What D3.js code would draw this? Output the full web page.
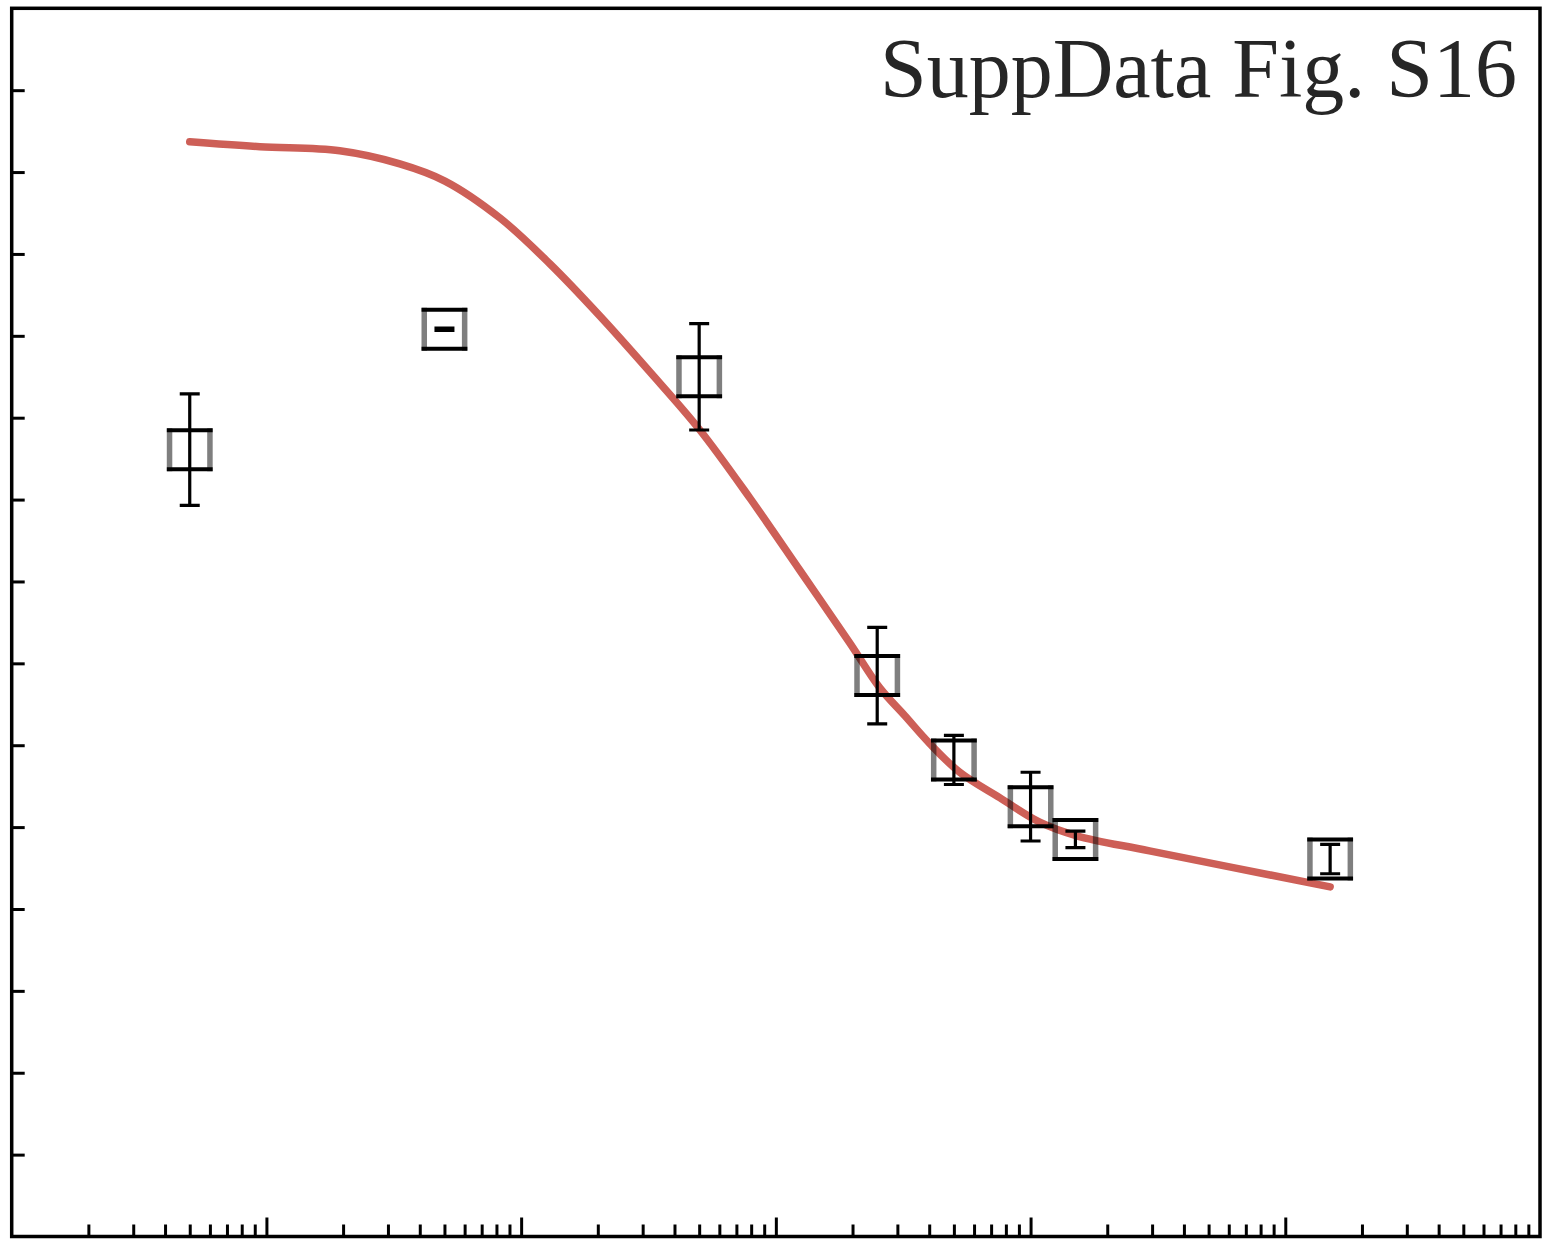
<!DOCTYPE html>
<html>
<head>
<meta charset="utf-8">
<script src="https://cdn.jsdelivr.net/npm/d3@7"></script>
<style>
  html, body { margin: 0; padding: 0; background: #ffffff; }
  svg { display: block; }
</style>
</head>
<body>
<svg id="chart" width="1543" height="1240"></svg>
<script>
// Measured responses (mean ± error) at each concentration
const concentrations = [0.05, 0.5, 5, 25, 50, 100, 150, 1500];
const responses      = [96.1, 110.8, 105.0, 68.5, 58.2, 52.5, 48.5, 46.1];
const errors         = [6.8, 0.15, 6.5, 5.9, 3.0, 4.2, 1.0, 1.8];

// Fitted dose-response curve, sampled along the concentration axis
const fitX = [0.05, 0.0943, 0.194, 0.334, 0.502, 0.825, 1.296, 2.04, 3.2, 5.03, 7.9,
              12.4, 19.5, 25.6, 32.1, 40.2, 52.7, 75.6, 108.6, 153, 293, 1500];
const fitY = [133.7, 133.1, 132.6, 131.0, 128.9, 124.4, 118.8, 112.4, 105.6, 98.5, 90.2,
              81.4, 72.5, 67.0, 63.6, 60.2, 56.7, 53.6, 50.6, 48.9, 47.1, 42.7];

// Axis ticks (no labels are printed)
const yTickValues = [10, 20, 30, 40, 50, 60, 70, 80, 90, 100, 110, 120, 130, 140];
const xDecades = [0.1, 1, 10, 100, 1000];
const xMinorMultipliers = [2, 3, 4, 5, 6, 7, 8, 9];
const xDomainDecades = [0.01, 0.1, 1, 10, 100, 1000];

const titleText = "SuppData Fig. S16";

const svg = d3.select("#chart");

const x = d3.scaleLog().domain([0.01, 10000]).range([11.7, 1540]);
const y = d3.scaleLinear().domain([0, 150]).range([1236.5, 8.3]);

const minorTicks = [];
xDomainDecades.forEach(d => xMinorMultipliers.forEach(m => minorTicks.push(d * m)));

// Minor x ticks (inward)
svg.append("g")
  .attr("transform", `translate(0,${y(0)})`)
  .call(d3.axisBottom(x).tickValues(minorTicks).tickSize(-12).tickFormat(""))
  .call(g => g.select(".domain").remove())
  .call(g => g.selectAll(".tick line").attr("stroke", "#000").attr("stroke-width", 3));

// Major x ticks (inward, longer)
svg.append("g")
  .attr("transform", `translate(0,${y(0)})`)
  .call(d3.axisBottom(x).tickValues(xDecades).tickSize(-19).tickFormat(""))
  .call(g => g.select(".domain").remove())
  .call(g => g.selectAll(".tick line").attr("stroke", "#000").attr("stroke-width", 3));

// Y ticks (inward)
svg.append("g")
  .attr("transform", `translate(${x(0.01)},0)`)
  .call(d3.axisLeft(y).tickValues(yTickValues).tickSize(-13).tickFormat(""))
  .call(g => g.select(".domain").remove())
  .call(g => g.selectAll(".tick line").attr("stroke", "#000").attr("stroke-width", 3));

// Plot frame
svg.append("rect")
  .attr("x", x(0.01))
  .attr("y", y(150))
  .attr("width", x(10000) - x(0.01))
  .attr("height", y(0) - y(150))
  .attr("fill", "none")
  .attr("stroke", "#000")
  .attr("stroke-width", 3.5);

// Fitted curve (drawn beneath the markers)
const line = d3.line()
  .x((d, i) => x(fitX[i]))
  .y(d => y(d))
  .curve(d3.curveCatmullRom.alpha(0.5));

svg.append("path")
  .datum(fitY)
  .attr("d", line)
  .attr("fill", "none")
  .attr("stroke", "#cd5f57")
  .attr("stroke-width", 7.5)
  .attr("stroke-linecap", "round")
  .attr("stroke-linejoin", "round");

const points = concentrations.map((c, i) => ({ c, v: responses[i], e: errors[i] }));

// Open square markers
const hw = 20.2, hh = 19.5;
const markers = svg.append("g");
points.forEach(p => {
  const cx = x(p.c), cy = y(p.v);
  markers.append("path")
    .attr("d", `M${cx - hw},${cy - hh - 2}V${cy + hh + 2}M${cx + hw},${cy - hh - 2}V${cy + hh + 2}`)
    .attr("stroke", "rgba(0,0,0,0.5)").attr("stroke-width", 5.5).attr("fill", "none");
  markers.append("path")
    .attr("d", `M${cx - hw - 2.7},${cy - hh}H${cx + hw + 2.7}M${cx - hw - 2.7},${cy + hh}H${cx + hw + 2.7}`)
    .attr("stroke", "#000").attr("stroke-width", 4).attr("fill", "none");
});

// Error bars
const capHalf = 10;
const bars = svg.append("g").attr("stroke", "#000").attr("stroke-width", 3.2).attr("fill", "none");
points.forEach(p => {
  const cx = x(p.c), top = y(p.v + p.e), bot = y(p.v - p.e);
  bars.append("path")
    .attr("d", `M${cx},${top}V${bot}M${cx - capHalf},${top}H${cx + capHalf}M${cx - capHalf},${bot}H${cx + capHalf}`);
});

// Figure label
svg.append("text")
  .attr("x", 1517)
  .attr("y", 97)
  .attr("text-anchor", "end")
  .attr("font-family", "'Liberation Serif', 'Times New Roman', serif")
  .attr("font-size", 84)
  .attr("fill", "#262626")
  .text(titleText);
</script>
</body>
</html>
